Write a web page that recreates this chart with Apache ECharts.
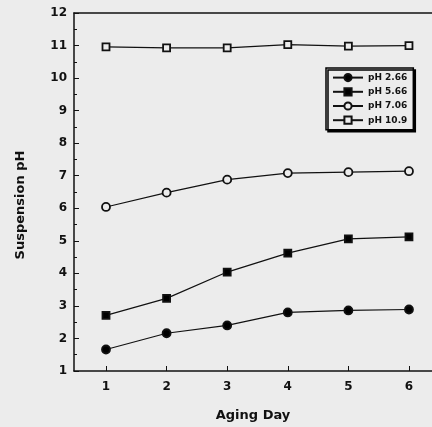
<!DOCTYPE html>
<html>
<head>
<meta charset="utf-8">
<title>Suspension pH</title>
<script src="https://cdn.jsdelivr.net/npm/echarts@6/dist/echarts.min.js"></script>
<style>
  html, body { margin: 0; padding: 0; background: #ececec; }
  #main { width: 432px; height: 427px; }
</style>
</head>
<body>
<div id="main"></div>
<script>
// data
var days = [1, 2, 3, 4, 5, 6];
var seriesNames = ['pH 2.66', 'pH 5.66', 'pH 7.06', 'pH 10.9'];
var ph266 = [1.66, 2.16, 2.40, 2.80, 2.86, 2.89];
var ph566 = [2.71, 3.23, 4.04, 4.62, 5.06, 5.12];
var ph706 = [6.04, 6.48, 6.88, 7.08, 7.11, 7.14];
var ph109 = [10.96, 10.93, 10.93, 11.03, 10.98, 11.00];
var yTicks = [1, 2, 3, 4, 5, 6, 7, 8, 9, 10, 11, 12];

var bg = '#ececec';
var font = 'DejaVu Sans, Verdana, sans-serif';

function pairs(vals) {
  return days.map(function (d, i) { return [d, vals[i]]; });
}

var marks = [
  { data: ph266, symbol: 'circle', size: 8, fill: '#000' },
  { data: ph566, symbol: 'rect', size: 7, fill: '#000' },
  { data: ph706, symbol: 'circle', size: 8, fill: bg },
  { data: ph109, symbol: 'rect', size: 7, fill: bg }
];

var series = marks.map(function (m, i) {
  return {
    name: seriesNames[i],
    type: 'line',
    data: pairs(m.data),
    symbol: m.symbol,
    symbolSize: m.size,
    showAllSymbol: true,
    lineStyle: { color: '#111', width: 1.2 },
    itemStyle: { color: m.fill, borderColor: '#111', borderWidth: 1.8 },
    emphasis: { disabled: true }
  };
});

var myChart = echarts.init(document.getElementById('main'));
var option = {
  backgroundColor: bg,
  animation: false,
  textStyle: { fontFamily: font },
  grid: { left: 74, right: 0, top: 13, bottom: 49 },
  legend: {
    orient: 'vertical',
    left: 326,
    top: 68,
    itemWidth: 30,
    itemHeight: 9,
    itemGap: 5,
    padding: [5, 6, 5, 6],
    backgroundColor: bg,
    borderColor: '#000',
    borderWidth: 1.5,
    shadowColor: '#000',
    shadowBlur: 0,
    shadowOffsetX: 2,
    shadowOffsetY: 2,
    textStyle: { fontFamily: font, fontSize: 9, fontWeight: 'bold', color: '#111' },
    data: seriesNames
  },
  xAxis: [{
    type: 'value',
    min: 0.472,
    max: 6.38,
    name: 'Aging Day',
    nameLocation: 'middle',
    nameGap: 38,
    nameTextStyle: { fontFamily: font, fontSize: 13, fontWeight: 'bold', color: '#111' },
    axisLine: { lineStyle: { color: '#111', width: 1.5 } },
    axisTick: { show: true, inside: true, length: 5, customValues: days, lineStyle: { color: '#111' } },
    axisLabel: { customValues: days, fontFamily: font, fontSize: 12, fontWeight: 'bold', color: '#111', margin: 10 },
    splitLine: { show: false }
  }, {
    type: 'value',
    position: 'top',
    min: 0.472,
    max: 6.38,
    axisLine: { show: true, lineStyle: { color: '#111', width: 1.5 } },
    axisTick: { show: false },
    axisLabel: { show: false },
    splitLine: { show: false }
  }],
  yAxis: {
    type: 'value',
    min: yTicks[0],
    max: yTicks[yTicks.length - 1],
    interval: 1,
    name: 'Suspension pH',
    nameLocation: 'middle',
    nameGap: 47,
    nameTextStyle: { fontFamily: font, fontSize: 13, fontWeight: 'bold', color: '#111', padding: [0, 26, 0, 0] },
    axisLine: { show: true, lineStyle: { color: '#111', width: 1.5 } },
    axisTick: { show: true, inside: true, length: 5, lineStyle: { color: '#111' } },
    minorTick: { show: true, splitNumber: 2, length: 3, lineStyle: { color: '#111' } },
    axisLabel: { fontFamily: font, fontSize: 12, fontWeight: 'bold', color: '#111', margin: 7 },
    splitLine: { show: false }
  },
  series: series
};
myChart.setOption(option);
</script>
</body>
</html>
